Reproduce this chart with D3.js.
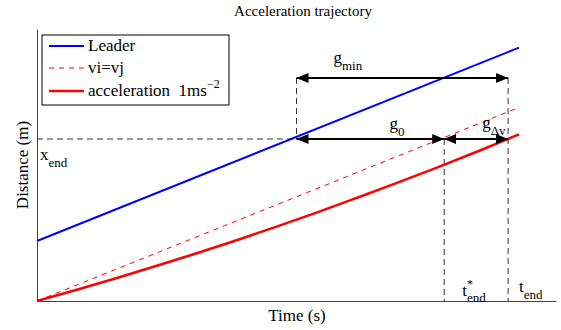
<!DOCTYPE html>
<html>
<head>
<meta charset="utf-8">
<script src="https://cdn.jsdelivr.net/npm/d3@7"></script>
<style>
  body { margin: 0; background: #fff; }
  svg text { font-family: "Liberation Serif", "Times New Roman", Times, "DejaVu Serif", serif; }
</style>
</head>
<body>
<svg id="chart" width="561" height="330"></svg>
<script>
// values (time and distance in arbitrary units)
var leaderT = [0, 24.15];
var leaderD = [3.0, 12.67];
var vivjT = [0, 24.15];
var vivjD = [0, 9.68];
var accT = [0, 2, 4, 6, 8, 10, 12, 14, 16, 18, 20, 22, 24.15];
var accD = [0, 0.56, 1.15, 1.76, 2.39, 3.04, 3.72, 4.42, 5.15, 5.89, 6.66, 7.45, 8.33];

var xEnd = 8.1;      // level of the x_end dashed line
var tGap = 13.0;     // where the leader reaches x_end
var tStarEnd = 20.4; // t*_end
var tEnd = 23.6;     // t_end
var gminLevel = 11.15;

var legendNames = ["Leader", "vi=vj", "acceleration  1ms"];

var svg = d3.select("#chart")
    .attr("font-family", "'Liberation Serif', 'Times New Roman', serif");

var x = d3.scaleLinear().domain([0, 26]).range([37, 556]);
var y = d3.scaleLinear().domain([0, 13.6]).range([301, 29]);

var line = d3.line()
    .x(function(d) { return x(d[0]); })
    .y(function(d) { return y(d[1]); });
var curve = d3.line()
    .x(function(d) { return x(d[0]); })
    .y(function(d) { return y(d[1]); })
    .curve(d3.curveMonotoneX);

// arrow head marker
var defs = svg.append("defs");
defs.append("marker")
    .attr("id", "head")
    .attr("viewBox", "0 0 12 10")
    .attr("refX", 12).attr("refY", 5)
    .attr("markerWidth", 12).attr("markerHeight", 10)
    .attr("markerUnits", "userSpaceOnUse")
    .attr("orient", "auto-start-reverse")
  .append("path")
    .attr("d", "M0,0 L12,5 L0,10 Z")
    .attr("fill", "#000");

// axes: only left and bottom lines, no ticks
svg.append("g")
    .attr("transform", "translate(" + x(0) + ",0)")
    .call(d3.axisLeft(y).tickValues([]).tickSizeOuter(0))
    .select(".domain").attr("stroke", "#444");
svg.append("g")
    .attr("transform", "translate(0," + y(0) + ")")
    .call(d3.axisBottom(x).tickValues([]).tickSizeOuter(0))
    .select(".domain").attr("stroke", "#444");

// dashed helper lines
var helper = [
  [[0, xEnd], [tGap, xEnd]],
  [[tGap, gminLevel], [tGap, xEnd]],
  [[tEnd, gminLevel], [tEnd, 0]],
  [[tStarEnd, xEnd], [tStarEnd, 0]]
];
svg.selectAll(".helper").data(helper).enter().append("path")
    .attr("class", "helper")
    .attr("d", line)
    .attr("fill", "none")
    .attr("stroke", "#333")
    .attr("stroke-width", 1)
    .attr("stroke-dasharray", "6,4");

// series
svg.append("path")
    .datum(d3.zip(leaderT, leaderD))
    .attr("d", line)
    .attr("fill", "none")
    .attr("stroke", "#0000ff")
    .attr("stroke-width", 2);
svg.append("path")
    .datum(d3.zip(vivjT, vivjD))
    .attr("d", line)
    .attr("fill", "none")
    .attr("stroke", "#ff0000")
    .attr("stroke-width", 1)
    .attr("stroke-dasharray", "5,5");
svg.append("path")
    .datum(d3.zip(accT, accD))
    .attr("d", curve)
    .attr("fill", "none")
    .attr("stroke", "#ff0000")
    .attr("stroke-width", 2.5);

// gap arrows
var arrows = [
  [[tGap, gminLevel], [tEnd, gminLevel]],
  [[tGap, xEnd], [tStarEnd, xEnd]],
  [[tStarEnd, xEnd], [tEnd, xEnd]]
];
svg.selectAll(".arrow").data(arrows).enter().append("path")
    .attr("class", "arrow")
    .attr("d", line)
    .attr("stroke", "#000")
    .attr("stroke-width", 2)
    .attr("marker-start", "url(#head)")
    .attr("marker-end", "url(#head)");

// label with subscript / superscript helper
function label(px, py, main, sub, sup, size) {
  var t = svg.append("text")
      .attr("x", px).attr("y", py)
      .attr("font-size", size || 17)
      .attr("fill", "#000");
  t.append("tspan").text(main);
  if (sup) {
    t.append("tspan").attr("font-size", 12).attr("dy", -8).text(sup);
    t.append("tspan").attr("font-size", 13).attr("dy", 14)
        .attr("dx", -6).text(sub);
  } else if (sub) {
    t.append("tspan").attr("font-size", 13).attr("dy", 7).text(sub);
  }
  return t;
}

label(x(tGap) + 37, y(gminLevel) - 15, "g", "min");
label(x(tGap) + 93, y(xEnd) - 10, "g", "0");
label(x(tStarEnd) + 38, y(xEnd) - 11, "g", "\u0394v");
label(x(0) + 3, y(xEnd) + 21, "x", "end");
label(x(tStarEnd) + 18, y(0) - 5, "t", "end", "*");
label(x(tEnd) + 11, y(0) - 9, "t", "end");

// title and axis labels
svg.append("text")
    .attr("x", 303).attr("y", 16)
    .attr("text-anchor", "middle")
    .attr("font-size", 15)
    .text("Acceleration trajectory");
svg.append("text")
    .attr("x", 297).attr("y", 321)
    .attr("text-anchor", "middle")
    .attr("font-size", 17)
    .text("Time (s)");
svg.append("text")
    .attr("transform", "translate(28,165) rotate(-90)")
    .attr("text-anchor", "middle")
    .attr("font-size", 17)
    .text("Distance (m)");

// legend
var legend = svg.append("g");
legend.append("rect")
    .attr("x", 42).attr("y", 35)
    .attr("width", 187).attr("height", 70)
    .attr("fill", "#fff")
    .attr("stroke", "#000")
    .attr("stroke-width", 1);
var legendStyle = [
  { color: "#0000ff", width: 2, dash: null },
  { color: "#ff0000", width: 1, dash: "5,5" },
  { color: "#ff0000", width: 2.5, dash: null }
];
var rows = [46, 68, 91];
legendNames.forEach(function(name, i) {
  legend.append("line")
      .attr("x1", 49).attr("x2", 84)
      .attr("y1", rows[i]).attr("y2", rows[i])
      .attr("stroke", legendStyle[i].color)
      .attr("stroke-width", legendStyle[i].width)
      .attr("stroke-dasharray", legendStyle[i].dash);
  var t = legend.append("text")
      .attr("x", 88).attr("y", rows[i] + 5)
      .attr("font-size", 17)
      .attr("xml:space", "preserve")
      .text(name);
  if (i === 2) {
    t.append("tspan").attr("font-size", 12).attr("dy", -8).text("\u22122");
  }
});
</script>
</body>
</html>
